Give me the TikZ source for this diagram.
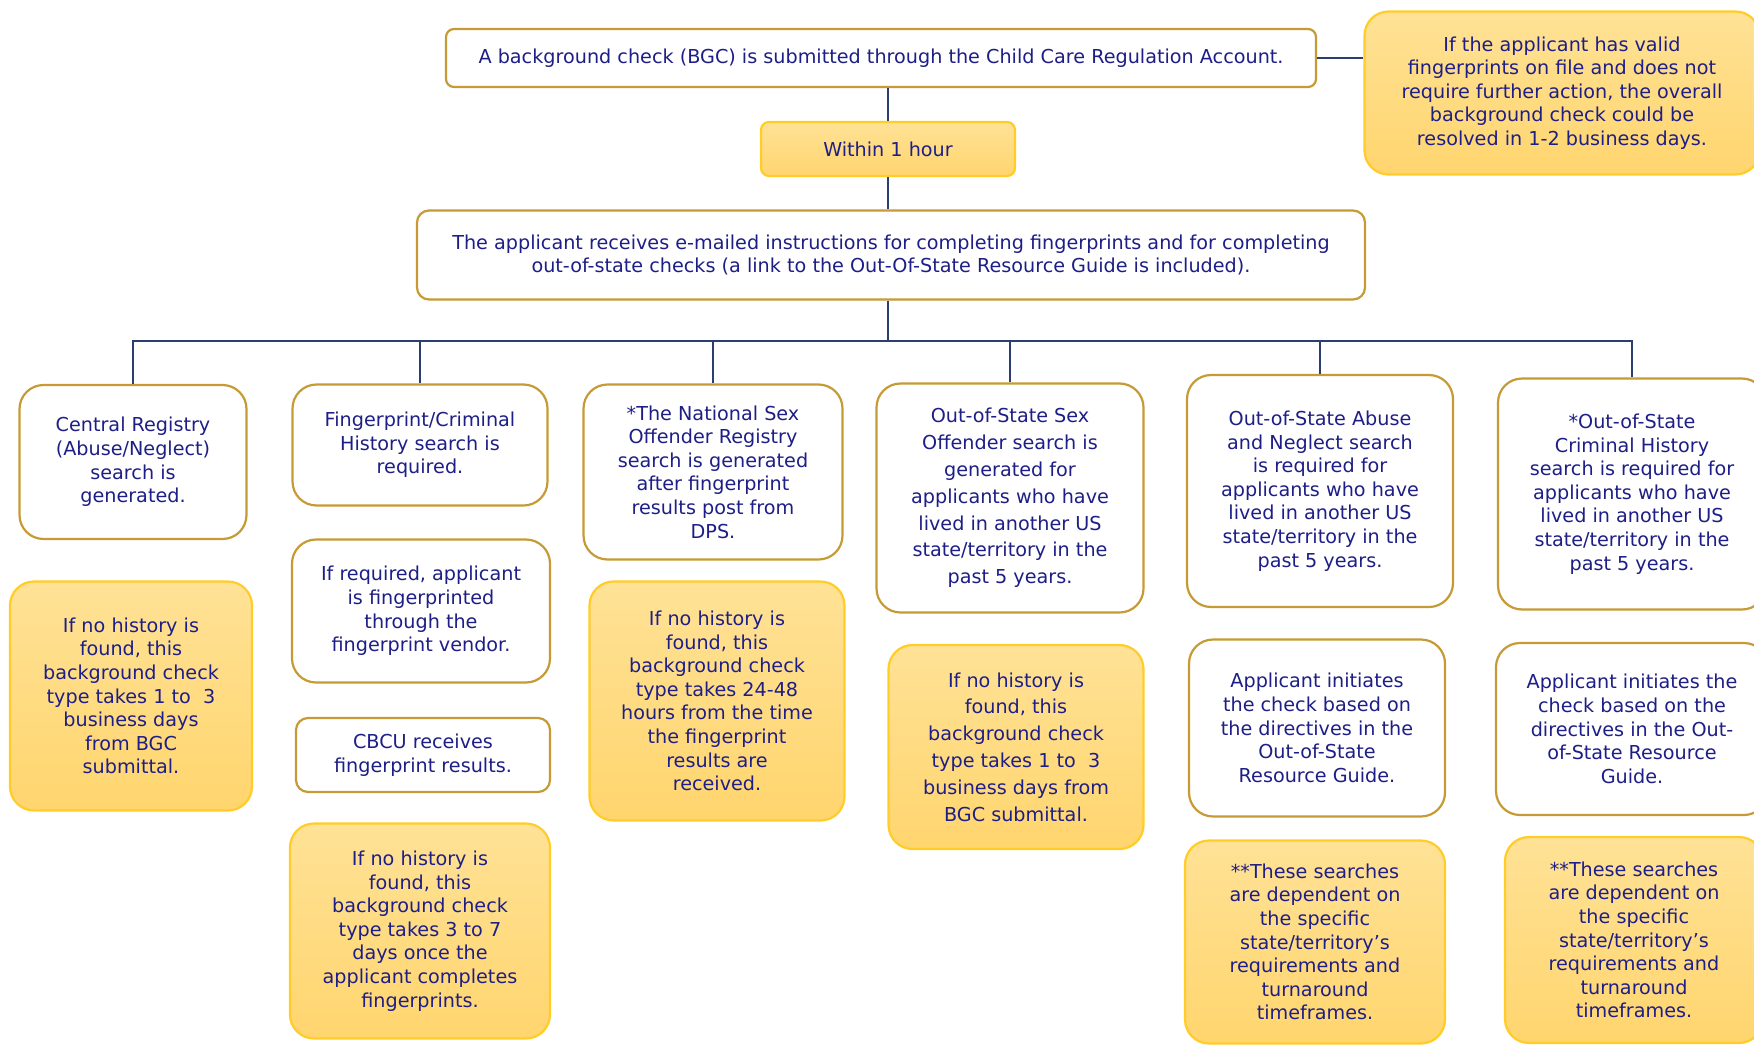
\documentclass[tikz,border=0pt]{standalone}
\usepackage{fontspec}
\setmainfont{DejaVu Sans}

\definecolor{txtblue}{RGB}{30,30,135}
\definecolor{boxgold}{RGB}{198,154,52}
\definecolor{notegold}{RGB}{255,204,40}
\definecolor{notetop}{RGB}{255,226,150}
\definecolor{notebot}{RGB}{255,213,110}
\definecolor{linkblue}{RGB}{44,62,112}

\tikzset{
  dims/.style 2 args={minimum width=#1*0.5pt, minimum height=#2*0.5pt},
  whitebox/.style={draw=boxgold, line width=1.1pt, fill=white, rounded corners=12pt,
    text=txtblue, align=center, inner sep=1pt, font=\fontsize{9.6}{11.8}\selectfont},
  notebox/.style={whitebox, draw=notegold, top color=notetop, bottom color=notebot},
  widelines/.style={font=\fontsize{9.6}{13.4}\selectfont},
  link/.style={draw=linkblue, line width=1pt}
}

\begin{document}
\begin{tikzpicture}[x=0.5pt, y=-0.5pt]

      \useasboundingbox (0,0) rectangle (1754,1054);
      \clip (0,0) rectangle (1754,1054);

      \node[whitebox, rounded corners=4pt, dims={870}{58}] (bgc) at (881,58)
        {A background check (BGC) is submitted through the Child Care Regulation Account.};
      \node[notebox, rounded corners=4pt, dims={254}{54}] (hour) at (888,149) {Within 1 hour};
      \node[notebox, dims={395}{163}] (valid) at (1562,93)
        {If the applicant has valid\\fingerprints on file and does not\\require further action, the overall\\background check could be\\resolved in 1-2 business days.};
      \node[whitebox, rounded corners=6pt, dims={948}{89}] (instr) at (891,255)
        {The applicant receives e-mailed instructions for completing fingerprints and for completing\\out-of-state checks (a link to the Out-Of-State Resource Guide is included).};

      \node[whitebox, dims={227}{154}] (central) at (133,462)
        {Central Registry\\(Abuse/Neglect)\\search is\\generated.};
      \node[notebox, dims={242}{229}] (centralnote) at (131,696)
        {If no history is\\found, this\\background check\\type takes 1 to~~3\\business days\\from BGC\\submittal.};

      \node[whitebox, dims={255}{121}] (finger) at (420,445)
        {Fingerprint/Criminal\\History search is\\required.};
      \node[whitebox, dims={258}{143}] (vendor) at (421,611)
        {If required, applicant\\is fingerprinted\\through the\\fingerprint vendor.};
      \node[whitebox, rounded corners=6pt, dims={254}{74}] (cbcu) at (423,755)
        {CBCU receives\\fingerprint results.};
      \node[notebox, dims={260}{215}] (fingernote) at (420,931)
        {If no history is\\found, this\\background check\\type takes 3 to 7\\days once the\\applicant completes\\fingerprints.};

      \node[whitebox, dims={259}{175}] (national) at (713,472)
        {*The National Sex\\Offender Registry\\search is generated\\after fingerprint\\results post from\\DPS.};
      \node[notebox, dims={255}{239}] (nationalnote) at (717,701)
        {If no history is\\found, this\\background check\\type takes 24-48\\hours from the time\\the fingerprint\\results are\\received.};

      \node[whitebox, widelines, dims={267}{229}] (sexoff) at (1010,498)
        {Out-of-State Sex\\Offender search is\\generated for\\applicants who have\\lived in another US\\state/territory in the\\past 5 years.};
      \node[notebox, widelines, dims={255}{204}] (sexoffnote) at (1016,747)
        {If no history is\\found, this\\background check\\type takes 1 to~~3\\business days from\\BGC submittal.};

      \node[whitebox, dims={266}{232}] (abuse) at (1320,491)
        {Out-of-State Abuse\\and Neglect search\\is required for\\applicants who have\\lived in another US\\state/territory in the\\past 5 years.};
      \node[whitebox, dims={256}{177}] (abuseguide) at (1317,728)
        {Applicant initiates\\the check based on\\the directives in the\\Out-of-State\\Resource Guide.};
      \node[notebox, dims={260}{203}] (abusenote) at (1315,942)
        {**These searches\\are dependent on\\the specific\\state/territory’s\\requirements and\\turnaround\\timeframes.};

      \node[whitebox, dims={268}{231}] (criminal) at (1632,494)
        {*Out-of-State\\Criminal History\\search is required for\\applicants who have\\lived in another US\\state/territory in the\\past 5 years.};
      \node[whitebox, dims={272}{172}] (criminalguide) at (1632,729)
        {Applicant initiates the\\check based on the\\directives in the Out-\\of-State Resource\\Guide.};
      \node[notebox, dims={258}{206}] (criminalnote) at (1634,940)
        {**These searches\\are dependent on\\the specific\\state/territory’s\\requirements and\\turnaround\\timeframes.};

      \coordinate (bus) at (888,341);

      \draw[link] (hour.north |- bgc.south) -- (hour.north);
      \draw[link] (hour.south) -- (hour.south |- instr.north);
      \draw[link] (bgc.east) -- (bgc.east -| valid.west);
      \draw[link] (instr.south -| bus) -- (bus);

      \foreach \n in {central,finger,national,sexoff,abuse,criminal}
      \draw[link] (bus) -| (\n.north);

    \end{tikzpicture}
\end{document}
